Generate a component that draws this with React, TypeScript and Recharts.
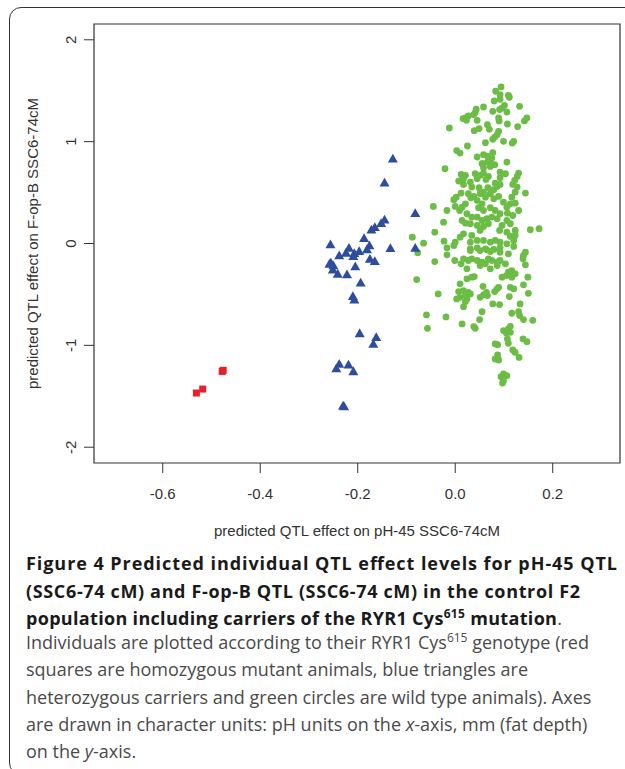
import React from "react";
import { ReferenceArea, Scatter, ScatterChart, XAxis, YAxis } from "recharts";

// predicted QTL effects: [pH-45, F-op-B]
const homozygous: [number, number][] = [
  [-0.478, -1.256], [-0.476, -1.245], [-0.518, -1.429], [-0.531, -1.468],
];

const heterozygous: [number, number][] = [
  [-0.128, 0.833], [-0.145, 0.597], [-0.082, 0.298], [-0.145, 0.233], [-0.152, 0.2],
  [-0.165, 0.16], [-0.172, 0.135], [-0.187, 0.052], [-0.256, -0.01], [-0.176, -0.02],
  [-0.133, -0.046], [-0.082, -0.043], [-0.218, -0.043], [-0.197, -0.075], [-0.181, -0.059],
  [-0.224, -0.092], [-0.238, -0.118], [-0.209, -0.125], [-0.207, -0.095], [-0.175, -0.151],
  [-0.165, -0.174], [-0.255, -0.19], [-0.25, -0.216], [-0.251, -0.256], [-0.205, -0.226],
  [-0.241, -0.298], [-0.222, -0.305], [-0.194, -0.386], [-0.21, -0.518], [-0.207, -0.551],
  [-0.196, -0.882], [-0.162, -0.921], [-0.168, -0.986], [-0.238, -1.183], [-0.244, -1.226],
  [-0.219, -1.19], [-0.209, -1.255], [-0.23, -1.593], [-0.228, -1.6], [-0.258, -0.2],
];

const wildType: [number, number][] = [
  [0.094, 1.537], [0.083, 1.495], [0.092, 1.462], [0.109, 1.455], [0.111, 1.436],
  [0.092, 1.416], [0.08, 1.399], [0.132, 1.347], [0.101, 1.357], [0.096, 1.33],
  [0.091, 1.315], [0.058, 1.34], [0.106, 1.291], [0.077, 1.298], [0.043, 1.318],
  [0.041, 1.285], [0.038, 1.266], [0.027, 1.252], [0.021, 1.232], [0.016, 1.226],
  [0.023, 1.209], [0.147, 1.232], [0.142, 1.203], [0.089, 1.232], [0.09, 1.203],
  [0.045, 1.209], [-0.012, 1.134], [0.066, 1.167], [0.07, 1.121], [0.107, 1.173],
  [0.128, 1.148], [0.049, 1.128], [0.039, 1.108], [0.089, 1.101], [0.086, 1.069],
  [0.081, 1.045], [0.077, 1.023], [0.062, 0.99], [0.099, 1.003], [0.12, 1.003],
  [0.117, 0.986], [0.025, 0.957], [0.003, 0.912], [0.01, 0.888], [0.045, 0.849],
  [0.058, 0.872], [0.066, 0.858], [0.077, 0.892], [0.075, 0.839], [0.068, 0.816],
  [0.106, 0.799], [0.056, 0.784], [0.072, 0.794],
  [-0.021, 0.735], [0.055, 0.784], [0.066, 0.799], [0.058, 0.744], [0.072, 0.757],
  [0.081, 0.774], [0.092, 0.701], [0.103, 0.685], [0.092, 0.646], [0.13, 0.691],
  [0.127, 0.659], [0.122, 0.619], [0.118, 0.58], [0.012, 0.678], [0.021, 0.669],
  [0.017, 0.636], [0.041, 0.685], [0.045, 0.636], [0.051, 0.669], [0.058, 0.691],
  [0.063, 0.629], [0.068, 0.659], [0.007, 0.613], [0.017, 0.58], [0.031, 0.603],
  [0.034, 0.554], [0.082, 0.593], [0.086, 0.56], [0.092, 0.58], [0.079, 0.528],
  [0.049, 0.548], [0.067, 0.548], [0.058, 0.504], [0.144, 0.495], [0.127, 0.554],
  [0.123, 0.504], [0.116, 0.455], [0.012, 0.495], [0.002, 0.455], [-0.003, 0.43],
  [0.027, 0.489], [0.032, 0.449], [0.038, 0.462], [0.051, 0.489], [0.062, 0.455],
  [0.072, 0.489], [0.079, 0.44], [0.089, 0.462], [0.045, 0.423], [0.055, 0.39],
  [0.048, 0.351], [0.058, 0.324], [0.021, 0.39], [0.014, 0.357], [0.009, 0.324],
  [0.0, 0.364], [-0.017, 0.324], [-0.045, 0.364], [-0.024, 0.209], [0.099, 0.406],
  [0.106, 0.357], [0.113, 0.39], [0.123, 0.396], [0.13, 0.324], [0.118, 0.275],
  [0.107, 0.298], [0.072, 0.351], [0.082, 0.324], [0.092, 0.292], [0.075, 0.259],
  [0.086, 0.243], [0.024, 0.292], [0.034, 0.259], [0.014, 0.226], [0.021, 0.2],
  [0.031, 0.194], [0.045, 0.259], [0.055, 0.226], [0.045, 0.177], [0.058, 0.167],
  [0.051, 0.128], [0.065, 0.243], [0.068, 0.194], [0.106, 0.226], [0.113, 0.194],
  [0.096, 0.177], [0.091, 0.128], [0.106, 0.111], [0.113, 0.069], [0.123, 0.128],
  [0.123, 0.079], [0.12, 0.03], [0.154, 0.135], [0.172, 0.145], [-0.042, 0.111],
  [-0.065, 0.003], [-0.088, 0.062], [-0.023, 0.023], [0.0, 0.013], [0.034, 0.079],
  [0.045, 0.03], [0.031, 0.013], [0.058, 0.03], [0.072, 0.013], [0.082, 0.03],
  [0.092, 0.013], [0.106, -0.003], [0.017, 0.095], [0.01, 0.062], [-0.003, -0.02],
  [-0.017, -0.042], [0.031, -0.052], [0.045, -0.042], [0.065, -0.062], [0.092, -0.042],
  [0.12, -0.029],
  [-0.077, -0.091], [-0.042, -0.177], [-0.017, -0.111], [-0.001, -0.167], [0.031, -0.069],
  [0.051, -0.069], [0.062, -0.052], [0.072, -0.079], [0.079, -0.059], [0.092, -0.086],
  [0.109, -0.101], [0.14, -0.118], [0.144, -0.086], [0.139, -0.15], [0.017, -0.15],
  [0.027, -0.167], [0.034, -0.15], [0.045, -0.167], [0.055, -0.184], [0.062, -0.2],
  [0.051, -0.216], [0.068, -0.15], [0.075, -0.167], [0.086, -0.184], [0.092, -0.167],
  [0.012, -0.2], [0.024, -0.249], [0.072, -0.249], [0.086, -0.216], [0.103, -0.2],
  [0.144, -0.209], [0.109, -0.282], [0.116, -0.266], [0.123, -0.298], [0.105, -0.315],
  [0.096, -0.331], [0.116, -0.331], [0.149, -0.331], [-0.079, -0.354], [0.024, -0.347],
  [0.034, -0.331], [0.039, -0.325], [0.01, -0.396], [0.14, -0.406], [0.113, -0.43],
  [0.12, -0.445], [0.089, -0.43], [0.086, -0.445], [0.057, -0.42], [0.081, -0.472],
  [0.007, -0.472], [0.017, -0.462], [0.027, -0.479], [0.031, -0.495], [0.021, -0.511],
  [0.01, -0.528], [0.003, -0.544], [0.024, -0.544], [-0.035, -0.495], [0.051, -0.528],
  [0.058, -0.504], [0.066, -0.511], [0.064, -0.479], [0.15, -0.489], [0.111, -0.521],
  [0.021, -0.57], [0.017, -0.62], [0.077, -0.593], [0.091, -0.6], [0.133, -0.593],
  [-0.059, -0.701], [-0.019, -0.721], [0.055, -0.669], [0.05, -0.747], [0.014, -0.79],
  [0.116, -0.685], [0.13, -0.669], [0.132, -0.708], [0.14, -0.747], [0.159, -0.754],
  [-0.057, -0.833], [0.038, -0.816], [0.041, -0.833], [0.099, -0.855], [0.109, -0.839],
  [0.113, -0.813], [0.105, -0.878],
  [0.113, -0.872], [0.082, -0.986], [0.087, -0.993], [0.107, -0.937], [0.109, -0.98],
  [0.139, -0.937], [0.147, -0.964], [0.118, -1.045], [0.123, -1.069], [0.131, -1.118],
  [0.087, -1.094], [0.082, -1.134], [0.089, -1.144], [0.099, -1.281], [0.094, -1.308],
  [0.106, -1.298], [0.099, -1.347], [0.097, -1.37],
];

const xTicks = [-0.6, -0.4, -0.2, 0, 0.2];
const yTicks = [-2, -1, 0, 1, 2];
const xDomain: [number, number] = [-0.741, 0.338];
const yDomain: [number, number] = [-2.155, 2.155];
const xTitle = "predicted QTL effect on pH-45 SSC6-74cM";
const yTitle = "predicted QTL effect on F-op-B SSC6-74cM";

const toPoints = (pairs: [number, number][]) => pairs.map(([x, y]) => ({ x, y }));

const axisFont = "'Liberation Sans', Arial, sans-serif";
const captionFont = "'Open Sans', 'Noto Sans', sans-serif";

// labels sit at fixed distances from the plot box, like base R
function XTick({ x, payload }: any) {
  return (
    <text x={x} y={499} textAnchor="middle" fontSize={15} fontFamily={axisFont} fill="#333">
      {payload.value === 0 ? "0.0" : payload.value.toFixed(1)}
    </text>
  );
}

function YTick({ y, payload }: any) {
  return (
    <text
      transform={`translate(76,${y}) rotate(-90)`}
      textAnchor="middle"
      fontSize={15}
      fontFamily={axisFont}
      fill="#333"
    >
      {payload.value}
    </text>
  );
}

const Dot = ({ cx, cy }: any) => <circle cx={cx} cy={cy} r={3.4} fill="#6bbd45" />;
const Triangle = ({ cx, cy }: any) => (
  <polygon points={`${cx},${cy - 5} ${cx + 5},${cy + 3.8} ${cx - 5},${cy + 3.8}`} fill="#2e4d9e" />
);
const Square = ({ cx, cy }: any) => (
  <rect x={cx - 3.5} y={cy - 3.5} width={7} height={7} fill="#e52229" />
);

export default function App() {
  return (
    <div style={{ position: "absolute", left: 0, top: 0, width: 625, height: 769, overflow: "hidden", background: "#fff" }}>
      <div
        style={{
          position: "absolute",
          left: 9,
          top: 7,
          width: 700,
          height: 766,
          border: "1.5px solid #333",
          borderRadius: 12,
        }}
      />
      <div style={{ position: "absolute", left: 0, top: 0 }}>
        <ScatterChart width={625} height={545} margin={{ top: 24, right: 5, bottom: 0, left: 0 }}>
          <XAxis
            type="number"
            dataKey="x"
            domain={xDomain}
            ticks={xTicks}
            interval={0}
            allowDataOverflow
            height={82}
            tickSize={10}
            tickMargin={0}
            axisLine={false}
            tickLine={{ stroke: "#333" }}
            tick={<XTick />}
          />
          <YAxis
            type="number"
            dataKey="y"
            domain={yDomain}
            ticks={yTicks}
            interval={0}
            allowDataOverflow
            width={94}
            tickSize={10}
            tickMargin={0}
            axisLine={false}
            tickLine={{ stroke: "#333" }}
            tick={<YTick />}
          />
          <ReferenceArea
            x1={xDomain[0]}
            x2={xDomain[1]}
            y1={yDomain[0]}
            y2={yDomain[1]}
            fill="none"
            stroke="#333"
            strokeWidth={1.2}
            ifOverflow="visible"
          />
          <Scatter data={toPoints(wildType)} shape={Dot} isAnimationActive={false} />
          <Scatter data={toPoints(heterozygous)} shape={Triangle} isAnimationActive={false} />
          <Scatter data={toPoints(homozygous)} shape={Square} isAnimationActive={false} />
        </ScatterChart>
      </div>
      <svg width={625} height={769} style={{ position: "absolute", left: 0, top: 0 }}>
        <text x={357} y={536} textAnchor="middle" fontSize={15} fontFamily={axisFont} fill="#333">
          {xTitle}
        </text>
        <text
          transform="translate(38,243.5) rotate(-90)"
          textAnchor="middle"
          fontSize={15}
          fontFamily={axisFont}
          fill="#333"
        >
          {yTitle}
        </text>
        <g fontFamily={captionFont} fontSize={18}>
          <g fontWeight={700} fill="#1a1a1a">
            <text x={26} y={570} textLength={591} lengthAdjust="spacing">
              Figure 4 Predicted individual QTL effect levels for pH-45 QTL
            </text>
            <text x={26} y={597.5} textLength={554} lengthAdjust="spacing">
              (SSC6-74 cM) and F-op-B QTL (SSC6-74 cM) in the control F2
            </text>
            <text x={26} y={624.5} textLength={536} lengthAdjust="spacing">
              population including carriers of the RYR1 Cys
              <tspan fontSize={12} dy={-7}>615</tspan>
              <tspan dy={7}> mutation</tspan>
              <tspan fontWeight={400} fill="#4a4a4a">.</tspan>
            </text>
          </g>
          <g fill="#4a4a4a">
            <text x={26} y={648.5}>
              Individuals are plotted according to their RYR1 Cys
              <tspan fontSize={12} dy={-7}>615</tspan>
              <tspan dy={7}> genotype (red</tspan>
            </text>
            <text x={26} y={676}>squares are homozygous mutant animals, blue triangles are</text>
            <text x={26} y={703.5}>heterozygous carriers and green circles are wild type animals). Axes</text>
            <text x={26} y={730.5}>
              are drawn in character units: pH units on the <tspan fontStyle="italic">x</tspan>-axis, mm (fat depth)
            </text>
            <text x={26} y={758}>
              on the <tspan fontStyle="italic">y</tspan>-axis.
            </text>
          </g>
        </g>
      </svg>
    </div>
  );
}
